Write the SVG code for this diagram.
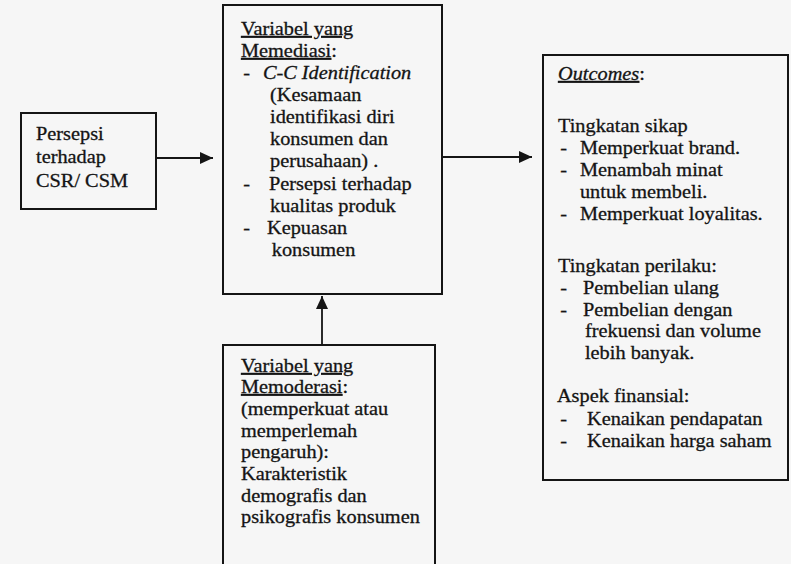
<svg xmlns="http://www.w3.org/2000/svg" width="791" height="564" viewBox="0 0 791 564">
  <style>
    .box { fill: none; stroke: #151515; stroke-width: 2; }
    .t text { font-family: "Liberation Serif", "Times New Roman", serif; font-size: 19px; fill: #141414; stroke: #141414; stroke-width: 0.3; }
    .u { text-decoration: underline; }
    .i { font-style: italic; }
    .link { fill: none; stroke: #151515; stroke-width: 1.8; }
  </style>
  <defs>
    <marker id="head" viewBox="0 0 13 12" refX="13" refY="6" markerWidth="13" markerHeight="12" markerUnits="userSpaceOnUse" orient="auto">
      <path d="M0,0 L13,6 L0,12 z" fill="#151515"/>
    </marker>
  </defs>

  <rect x="0" y="0" width="791" height="564" fill="#f6f6f6"/>

  <!-- Independent variable -->
  <g id="node-csr">
    <rect class="box" x="21" y="113" width="135" height="96"/>
    <g class="t" transform="translate(36 0) scale(1.07 1)">
      <text x="0" y="140">Persepsi</text>
      <text x="0" y="163">terhadap</text>
      <text x="0" y="187">CSR/ CSM</text>
    </g>
  </g>

  <!-- Mediating variables -->
  <g id="node-mediasi">
    <rect class="box" x="223" y="5" width="219" height="289"/>
    <g class="t" transform="translate(241 0) scale(1.07 1)">
      <text x="0" y="35"><tspan class="u">Variabel yang</tspan></text>
      <text x="0" y="57"><tspan class="u">Memediasi</tspan>:</text>
      <text x="2" y="79">-</text>
      <text x="20.5" y="79" class="i">C-C Identification</text>
      <text x="27.1" y="101">(Kesamaan</text>
      <text x="27.1" y="123">identifikasi diri</text>
      <text x="27.1" y="145">konsumen dan</text>
      <text x="27.1" y="167">perusahaan) .</text>
      <text x="2" y="190">-</text>
      <text x="26.2" y="190">Persepsi terhadap</text>
      <text x="27.1" y="212">kualitas produk</text>
      <text x="2" y="234">-</text>
      <text x="24.3" y="234">Kepuasan</text>
      <text x="28.8" y="256">konsumen</text>
    </g>
  </g>

  <!-- Outcomes -->
  <g id="node-outcomes">
    <rect class="box" x="543" y="55" width="245" height="425"/>
    <g class="t" transform="translate(558 0) scale(1.07 1)">
      <text x="0" y="80"><tspan class="u i">Outcomes</tspan>:</text>
      <text x="0" y="132">Tingkatan sikap</text>
      <text x="2" y="154">-</text>
      <text x="20.5" y="154">Memperkuat brand.</text>
      <text x="2" y="176">-</text>
      <text x="20.5" y="176">Menambah minat</text>
      <text x="20.5" y="198">untuk membeli.</text>
      <text x="2" y="220">-</text>
      <text x="20.5" y="220">Memperkuat loyalitas.</text>
      <text x="0" y="272">Tingkatan perilaku:</text>
      <text x="2" y="294">-</text>
      <text x="23.4" y="294">Pembelian ulang</text>
      <text x="2" y="316">-</text>
      <text x="23.4" y="316">Pembelian dengan</text>
      <text x="25.2" y="337">frekuensi dan volume</text>
      <text x="25.2" y="359">lebih banyak.</text>
      <text x="-1" y="402">Aspek finansial:</text>
      <text x="2" y="425">-</text>
      <text x="27.1" y="425">Kenaikan pendapatan</text>
      <text x="2" y="447">-</text>
      <text x="27.1" y="447">Kenaikan harga saham</text>
    </g>
  </g>

  <!-- Moderating variables (box runs past the lower edge) -->
  <g id="node-moderasi">
    <rect class="box" x="223" y="345" width="212" height="260"/>
    <g class="t" transform="translate(241 0) scale(1.07 1)">
      <text x="0" y="372"><tspan class="u">Variabel yang</tspan></text>
      <text x="0" y="393"><tspan class="u">Memoderasi</tspan>:</text>
      <text x="0" y="415">(memperkuat atau</text>
      <text x="0" y="437">memperlemah</text>
      <text x="0" y="458">pengaruh):</text>
      <text x="0" y="480">Karakteristik</text>
      <text x="0" y="502">demografis dan</text>
      <text x="0" y="523">psikografis konsumen</text>
    </g>
  </g>

  <g id="connectors">
    <path class="link" d="M156,158 L213,158" marker-end="url(#head)"/>
    <path class="link" d="M442,157 L532,157" marker-end="url(#head)"/>
    <path class="link" d="M322,345 L322,296" marker-end="url(#head)"/>
  </g>
</svg>
